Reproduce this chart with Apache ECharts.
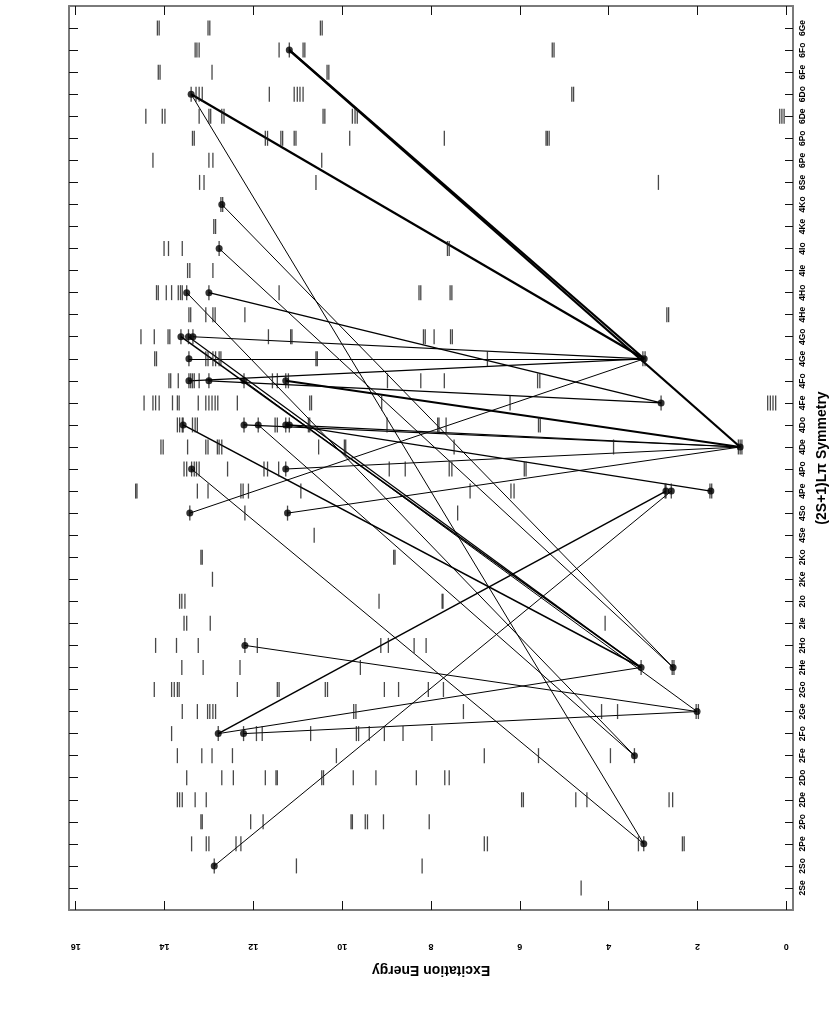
<!DOCTYPE html>
<html>
<head>
<meta charset="utf-8">
<script src="https://cdn.jsdelivr.net/npm/echarts@6/dist/echarts.min.js"></script>
<style>
html, body { margin: 0; padding: 0; background: #fff; }
#chart { width: 830px; height: 1017px; }
</style>
</head>
<body>
<div id="chart"></div>
<script>
// symmetry rows, bottom to top
const doubletSyms = ['2Se', '2So', '2Pe', '2Po', '2De', '2Do', '2Fe', '2Fo', '2Ge', '2Go', '2He', '2Ho', '2Ie', '2Io', '2Ke', '2Ko']
const quartetSyms = ['4Se', '4So', '4Pe', '4Po', '4De', '4Do', '4Fe', '4Fo', '4Ge', '4Go', '4He', '4Ho', '4Ie', '4Io', '4Ke', '4Ko']
const sextetSyms = ['6Se', '6Pe', '6Po', '6De', '6Do', '6Fe', '6Fo', '6Ge']

const energyTicks = [0, 2, 4, 6, 8, 10, 12, 14, 16]

// energy levels (same order as the symmetry lists)
const doubletLevels = [
  [4.62],
  [12.88, 11.03, 8.20],
  [13.39, 13.06, 13.00, 12.39, 12.28, 6.80, 6.73, 3.33, 3.21, 2.34, 2.30],
  [13.18, 13.15, 12.06, 11.78, 9.80, 9.77, 9.48, 9.43, 9.07, 8.04],
  [13.71, 13.66, 13.60, 13.31, 13.06, 5.96, 5.92, 4.74, 4.49, 2.64, 2.56],
  [13.50, 12.71, 12.45, 11.73, 11.49, 11.46, 10.46, 10.42, 9.75, 9.24, 8.33, 7.69, 7.59],
  [13.71, 13.16, 12.93, 12.47, 10.13, 6.80, 5.58, 3.96, 3.42],
  [13.84, 12.79, 12.22, 11.93, 11.80, 10.71, 9.68, 9.63, 9.39, 9.05, 8.63, 7.98],
  [13.60, 13.26, 13.03, 12.98, 12.91, 12.85, 9.74, 9.69, 7.27, 4.16, 3.80, 2.03, 1.98],
  [14.23, 13.84, 13.78, 13.71, 13.67, 12.36, 11.46, 11.42, 10.38, 10.33, 9.05, 8.73, 8.06, 7.72],
  [13.61, 13.13, 12.30, 9.59, 3.27, 2.57, 2.53],
  [14.20, 13.73, 13.24, 12.19, 11.91, 9.13, 8.96, 8.38, 8.11],
  [13.56, 13.50, 12.97, 4.08],
  [13.66, 13.61, 13.54, 9.17, 7.75, 7.73],
  [12.92],
  [13.18, 13.15, 8.84, 8.81]
]
const quartetLevels = [
  [10.63],
  [13.43, 12.19, 11.23, 7.40],
  [14.65, 14.62, 13.26, 13.02, 12.28, 12.23, 12.11, 10.93, 7.12, 6.20, 6.13, 2.73, 2.71, 2.59, 1.72, 1.68],
  [13.56, 13.50, 13.39, 13.33, 13.28, 13.22, 12.58, 11.76, 11.68, 11.43, 11.27, 8.94, 8.58, 7.59, 7.53, 5.90, 5.86],
  [14.08, 14.03, 13.48, 13.07, 13.02, 12.81, 12.77, 12.71, 10.53, 9.95, 9.92, 7.48, 3.89, 1.08, 1.04, 1.00],
  [13.71, 13.66, 13.60, 13.58, 13.37, 13.31, 13.26, 12.21, 11.89, 11.51, 11.46, 11.27, 11.19, 10.76, 10.73, 8.99, 7.85, 7.82, 7.66, 5.58, 5.54],
  [14.46, 14.26, 14.20, 14.12, 13.82, 13.71, 13.67, 13.24, 13.07, 13.00, 12.93, 12.86, 12.80, 12.36, 10.73, 10.69, 9.11, 6.22, 2.82, 0.42, 0.36, 0.30, 0.24],
  [13.90, 13.86, 13.69, 13.45, 13.41, 13.37, 13.33, 13.22, 13.00, 12.21, 11.57, 11.46, 11.27, 11.21, 8.98, 8.23, 7.70, 5.60, 5.55],
  [14.22, 14.18, 13.45, 13.07, 13.02, 12.91, 12.85, 12.77, 12.73, 10.59, 10.56, 6.73, 3.23, 3.18],
  [14.53, 14.23, 13.92, 13.88, 13.63, 13.46, 13.36, 11.66, 11.16, 11.13, 8.17, 8.13, 7.93, 7.56, 7.52],
  [13.45, 13.41, 13.07, 12.91, 12.86, 12.19, 2.69, 2.65],
  [14.18, 14.14, 13.96, 13.84, 13.69, 13.64, 13.60, 13.50, 13.00, 11.42, 8.27, 8.23, 7.57, 7.53],
  [13.48, 13.43, 12.91],
  [14.01, 13.91, 13.60, 12.77, 7.63, 7.59],
  [12.89, 12.85],
  [12.73, 12.69]
]
const sextetLevels = [
  [13.21, 13.11, 10.59, 2.88],
  [14.26, 13.00, 12.91, 10.46],
  [13.37, 13.33, 11.73, 11.68, 11.38, 11.34, 11.08, 11.04, 9.83, 7.70, 5.41, 5.38, 5.34],
  [14.42, 14.05, 13.99, 13.22, 13.00, 12.96, 12.71, 12.66, 10.43, 10.39, 9.77, 9.71, 9.66, 0.15, 0.10, 0.05],
  [13.40, 13.29, 13.22, 13.15, 11.64, 11.08, 11.01, 10.95, 10.88, 4.83, 4.79],
  [14.14, 14.10, 12.93, 10.34, 10.30],
  [13.31, 13.27, 13.22, 11.42, 11.19, 10.88, 10.84, 5.27, 5.23],
  [14.16, 14.12, 13.02, 12.98, 10.49, 10.45]
]

// transitions: [from symmetry, energy, to symmetry, energy, line width]
const transitions = [
  ['6Fo', 11.19, '4Ge', 3.20, 2.2],
  ['6Fo', 11.19, '4De', 1.04, 2.2],
  ['6Do', 13.40, '4Ge', 3.20, 2.2],
  ['6Do', 13.40, '2Pe', 3.21, 1],
  ['4Ko', 12.71, '2He', 2.55, 1],
  ['4Io', 12.77, '2He', 2.55, 1],
  ['4Ho', 13.50, '2Fe', 3.42, 1],
  ['4Ho', 13.00, '4Fe', 2.82, 1.5],
  ['4Go', 13.63, '2He', 3.27, 1.5],
  ['4Go', 13.46, '2He', 3.27, 1.2],
  ['4Go', 13.36, '4Ge', 3.20, 1.2],
  ['4Ge', 13.45, '4Ge', 3.20, 1],
  ['4Fo', 13.45, '4Ge', 3.20, 1.2],
  ['4Fo', 13.00, '4Fe', 2.82, 1.2],
  ['4Fo', 11.27, '4De', 1.04, 2],
  ['4Fo', 12.21, '2Ge', 2.01, 1],
  ['4Do', 13.58, '2He', 3.27, 1.5],
  ['4Do', 12.21, '4De', 1.04, 1.2],
  ['4Do', 11.89, '2Fe', 3.42, 1],
  ['4Do', 11.27, '4De', 1.04, 1.2],
  ['4Do', 11.19, '4Pe', 1.70, 1.2],
  ['4Po', 13.39, '2Pe', 3.21, 1],
  ['4Po', 11.27, '4De', 1.04, 1.2],
  ['4So', 13.43, '4Ge', 3.20, 1],
  ['4So', 11.23, '4De', 1.04, 1],
  ['2Ho', 12.19, '2Ge', 2.01, 1],
  ['2Fo', 12.79, '4Pe', 2.71, 1.5],
  ['2Fo', 12.79, '2He', 3.27, 1],
  ['2Fo', 12.22, '2Ge', 2.01, 1],
  ['2So', 12.88, '4Pe', 2.59, 1]
]

const symmetries = [...doubletSyms, ...quartetSyms, ...sextetSyms]
const allLevels = [...doubletLevels, ...quartetLevels, ...sextetLevels]
const row = (s) => symmetries.indexOf(s)

const levelPoints = []
allLevels.forEach((list, i) => list.forEach((e) => levelPoints.push([e, i])))

const lineData = transitions.map(([s1, e1, s2, e2, w]) => ({
  coords: [[e1, row(s1)], [e2, row(s2)]],
  lineStyle: { width: w }
}))

const dotMap = {}
transitions.forEach(([s1, e1, s2, e2]) => {
  dotMap[s1 + e1] = [e1, row(s1)]
  dotMap[s2 + e2] = [e2, row(s2)]
})
const dotPoints = Object.values(dotMap)

const rowTicks = symmetries.map((s, i) => i)
const frameColor = '#7a7a7a'
const tickColor = '#111'
const labelFont = 'Liberation Sans'

const chart = echarts.init(document.getElementById('chart'))

chart.setOption({
  backgroundColor: '#fff',
  animation: false,
  grid: { left: 69, right: 37, top: 6, bottom: 107, containLabel: false, outerBoundsMode: 'none' },
  xAxis: [
    {
      type: 'value',
      min: -0.15,
      max: 16.15,
      inverse: true,
      position: 'bottom',
      name: 'Excitation Energy',
      nameLocation: 'middle',
      nameRotate: 180,
      nameGap: 53,
      nameTextStyle: { fontFamily: labelFont, fontWeight: 'bold', fontSize: 14, color: '#000' },
      axisLine: { onZero: false, lineStyle: { color: frameColor, width: 2 } },
      axisTick: { inside: true, length: 9, customValues: energyTicks, lineStyle: { color: tickColor } },
      axisLabel: {
        rotate: 180,
        margin: 32,
        customValues: energyTicks,
        fontFamily: labelFont,
        fontWeight: 'bold',
        fontSize: 9,
        color: '#000'
      },
      splitLine: { show: false }
    },
    {
      type: 'value',
      min: -0.15,
      max: 16.15,
      inverse: true,
      position: 'top',
      axisLine: { onZero: false, lineStyle: { color: frameColor, width: 2 } },
      axisTick: { inside: true, length: 9, customValues: energyTicks, lineStyle: { color: tickColor } },
      axisLabel: { show: false },
      splitLine: { show: false }
    }
  ],
  yAxis: [
    {
      type: 'value',
      min: -1,
      max: 40,
      position: 'right',
      name: '(2S+1)L\u03c0 Symmetry',
      nameLocation: 'middle',
      nameRotate: 90,
      nameGap: 17,
      nameTextStyle: { fontFamily: labelFont, fontWeight: 'bold', fontSize: 14, color: '#000' },
      axisLine: { onZero: false, lineStyle: { color: frameColor, width: 2 } },
      axisTick: { inside: true, length: 8, customValues: rowTicks, lineStyle: { color: tickColor } },
      axisLabel: {
        rotate: 90,
        margin: 5,
        customValues: rowTicks,
        formatter: (v) => symmetries[v] || '',
        fontFamily: labelFont,
        fontWeight: 'bold',
        fontSize: 8.5,
        color: '#000'
      },
      splitLine: { show: false }
    },
    {
      type: 'value',
      min: -1,
      max: 40,
      position: 'left',
      axisLine: { onZero: false, lineStyle: { color: frameColor, width: 2 } },
      axisTick: { inside: true, length: 9, customValues: rowTicks, lineStyle: { color: tickColor } },
      axisLabel: { show: false },
      splitLine: { show: false }
    }
  ],
  series: [
    {
      type: 'scatter',
      xAxisIndex: 0,
      yAxisIndex: 0,
      symbol: 'rect',
      symbolSize: [1.3, 15],
      itemStyle: { color: '#1a1a1a' },
      data: levelPoints,
      silent: true
    },
    {
      type: 'lines',
      coordinateSystem: 'cartesian2d',
      xAxisIndex: 0,
      yAxisIndex: 0,
      lineStyle: { color: '#000', opacity: 1, width: 1 },
      data: lineData,
      silent: true
    },
    {
      type: 'scatter',
      xAxisIndex: 0,
      yAxisIndex: 0,
      symbol: 'circle',
      symbolSize: 7,
      itemStyle: { color: '#000' },
      data: dotPoints,
      silent: true,
      z: 5
    }
  ]
})
</script>
</body>
</html>
